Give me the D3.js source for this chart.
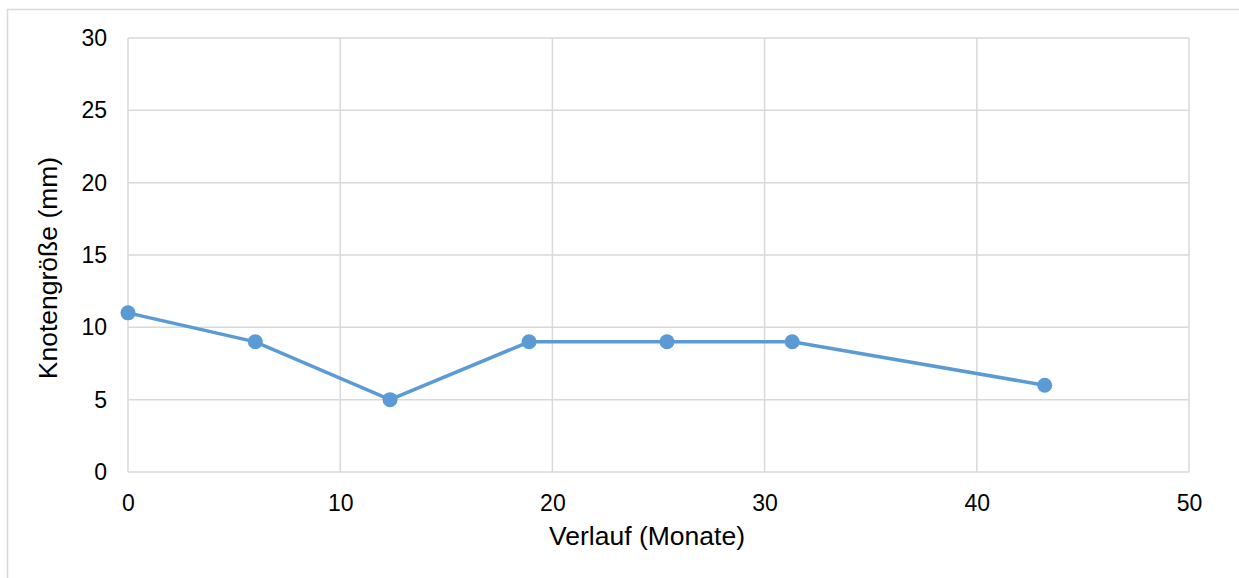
<!DOCTYPE html>
<html>
<head>
<meta charset="utf-8">
<script src="https://d3js.org/d3.v7.min.js"></script>
<style>
  body { margin: 0; background: #fff; }
  text { font-family: "Liberation Sans", Arial, sans-serif; fill: #000; }
</style>
</head>
<body>
<div id="chart"></div>
<script>
// data
var months = [0, 6, 12.35, 18.9, 25.4, 31.3, 43.2];
var sizes  = [11, 9, 5, 9, 9, 9, 6];
var xTicks = [0, 10, 20, 30, 40, 50];
var yTicks = [0, 5, 10, 15, 20, 25, 30];
var xLabel = "Verlauf (Monate)";
var yLabel = "Knotengröße (mm)";

var W = 1239, H = 578;
var margin = { top: 38, right: 50, bottom: 106, left: 128 };
var width = W - margin.left - margin.right,
    height = H - margin.top - margin.bottom;

var svg = d3.select("#chart").append("svg")
    .attr("width", W).attr("height", H);

// outer chart border (runs off the right and bottom edges)
svg.append("rect")
    .attr("x", 7.5).attr("y", 9.5)
    .attr("width", W).attr("height", H)
    .attr("fill", "none").attr("stroke", "#d9d9d9").attr("stroke-width", 1.5);

var g = svg.append("g")
    .attr("transform", "translate(" + margin.left + "," + margin.top + ")");

var x = d3.scaleLinear().domain([0, 50]).range([0, width]);
var y = d3.scaleLinear().domain([0, 30]).range([height, 0]);

// gridlines
g.selectAll(".vgrid").data(xTicks).enter().append("line")
    .attr("x1", d => x(d)).attr("x2", d => x(d))
    .attr("y1", 0).attr("y2", height)
    .attr("stroke", "#d9d9d9").attr("stroke-width", 1.5);
g.selectAll(".hgrid").data(yTicks).enter().append("line")
    .attr("x1", 0).attr("x2", width)
    .attr("y1", d => y(d)).attr("y2", d => y(d))
    .attr("stroke", "#d9d9d9").attr("stroke-width", 1.5);

// axes (labels only)
var xAxis = g.append("g")
    .attr("transform", "translate(0," + height + ")")
    .call(d3.axisBottom(x).tickValues(xTicks).tickSize(0).tickPadding(23));
var yAxis = g.append("g")
    .call(d3.axisLeft(y).tickValues(yTicks).tickSize(0).tickPadding(21));
g.selectAll(".domain").remove();
g.selectAll(".tick text").style("font-size", "23px").attr("fill", "#000");

// line + markers
var line = d3.line()
    .x((d, i) => x(months[i]))
    .y(d => y(d));

g.append("path")
    .datum(sizes)
    .attr("d", line)
    .attr("fill", "none")
    .attr("stroke", "#5b9bd5")
    .attr("stroke-width", 3.5);

g.selectAll(".dot").data(sizes).enter().append("circle")
    .attr("cx", (d, i) => x(months[i]))
    .attr("cy", d => y(d))
    .attr("r", 7.5)
    .attr("fill", "#5b9bd5");

// axis titles
svg.append("text")
    .attr("x", 647)
    .attr("y", 545)
    .attr("text-anchor", "middle")
    .style("font-size", "26.5px")
    .text(xLabel);

svg.append("text")
    .attr("transform", "translate(57,268) rotate(-90)")
    .attr("text-anchor", "middle")
    .style("font-size", "26.5px")
    .text(yLabel);
</script>
</body>
</html>
